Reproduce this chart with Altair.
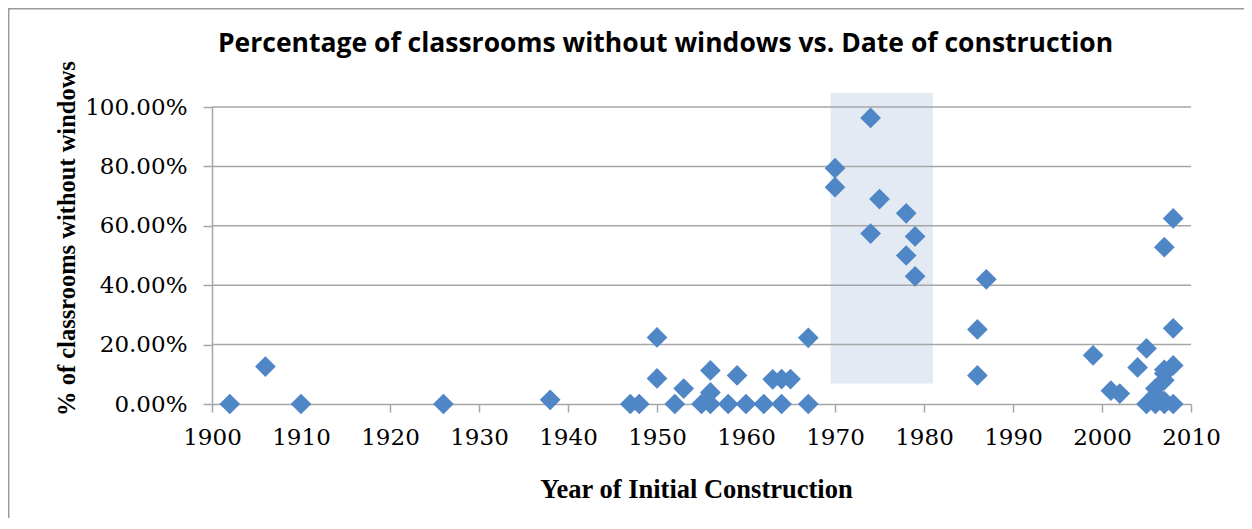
import altair as alt
import pandas as pd

# Data
years = [1902, 1906, 1910, 1926, 1938, 1947, 1948, 1950, 1950, 1952,
         1953, 1955, 1956, 1956, 1956, 1958, 1959, 1960, 1962, 1963,
         1964, 1964, 1965, 1967, 1967, 1970, 1970, 1974, 1974, 1975,
         1978, 1978, 1979, 1979, 1986, 1986, 1987, 1999, 2001, 2002,
         2004, 2005, 2005, 2006, 2006, 2006, 2006, 2007, 2007, 2007,
         2007, 2007, 2007, 2008, 2008, 2008, 2008]
pct = [0.0, 12.6, 0.0, 0.0, 1.4, 0.0, 0.0, 22.4, 8.6, 0.0,
       5.2, 0.0, 0.0, 3.9, 11.3, 0.0, 9.6, 0.0, 0.0, 8.3,
       8.4, 0.0, 8.4, 22.3, 0.0, 79.4, 73.0, 96.3, 57.4, 69.0,
       64.2, 50.0, 56.4, 43.0, 25.1, 9.6, 42.0, 16.4, 4.5, 3.5,
       12.3, 18.7, 0.0, 0.0, 1.0, 3.0, 5.2, 0.0, 1.0, 8.0,
       10.3, 11.5, 52.8, 0.0, 13.0, 25.5, 62.5]

x_ticks = [1900, 1910, 1920, 1930, 1940, 1950, 1960, 1970, 1980, 1990, 2000, 2010]
y_ticks = [0.0, 0.2, 0.4, 0.6, 0.8, 1.0]

# highlighted band (1970s)
hl_x = [1969.5]
hl_x2 = [1981.0]
hl_y = [0.069]
hl_y2 = [1.047]

pts = pd.DataFrame({"year": years, "pct": [p / 100 for p in pct]})
grid = pd.DataFrame({"year": [1900] * 5, "pct": y_ticks[1:]})
hl = pd.DataFrame({"year": hl_x, "x2": hl_x2, "pct": hl_y, "y2": hl_y2})
frame = pd.DataFrame({"k": [0]})

GRAY = "#a6a6a6"
XTITLE = "Year of Initial Construction"
YTITLE = "% of classrooms without windows"
xs = alt.Scale(domain=[1900, 2010], nice=False, zero=False)
ys = alt.Scale(domain=[0, 1], nice=False)

xaxis = alt.Axis(
    values=x_ticks, format="d", title=XTITLE,
    grid=False, domainColor=GRAY, domainWidth=1.5, tickColor=GRAY,
    tickWidth=1.5, tickSize=8, labelPadding=14, labelFont="DejaVu Serif",
    labelFontSize=23, labelColor="#000000", titleFont="Liberation Serif",
    titleFontSize=26.5, titleFontWeight="bold", titleColor="#000000",
    titlePadding=27, titleX=484, titleAlign="center",
    labelFlush=False, labelOverlap=False,
)
yaxis = alt.Axis(
    values=y_ticks, format=".2%", title=YTITLE,
    grid=False, domainColor=GRAY, domainWidth=1.5, tickColor=GRAY,
    tickWidth=1.5, tickSize=9, labelPadding=16, labelFont="DejaVu Serif",
    labelFontSize=23, labelColor="#000000", titleFont="Liberation Serif",
    titleFontSize=24.5, titleFontWeight="bold", titleColor="#000000",
    titlePadding=5, titleY=131, titleAlign="center",
    labelFlush=False, labelOverlap=False,
)

band = alt.Chart(hl).mark_rect(color="#e4eaf4").encode(
    x=alt.X("year:Q", scale=xs, axis=xaxis),
    x2="x2:Q",
    y=alt.Y("pct:Q", scale=ys, axis=yaxis),
    y2="y2:Q",
)

gridlines = alt.Chart(grid).mark_rule(color=GRAY, strokeWidth=1.5).encode(
    y=alt.Y("pct:Q", scale=ys, axis=yaxis)
)

points = alt.Chart(pts).mark_point(
    shape="diamond", filled=True, size=430, color="#4f86c6", opacity=1
).encode(
    x=alt.X("year:Q", scale=xs, axis=xaxis),
    y=alt.Y("pct:Q", scale=ys, axis=yaxis),
)

frame_left = alt.Chart(frame).mark_rule(color="#9a9a9a", strokeWidth=1.5).encode(
    x=alt.value(-203.3), y=alt.value(-99), y2=alt.value(420)
)
frame_top = alt.Chart(frame).mark_rule(color="#9a9a9a", strokeWidth=1.5).encode(
    x=alt.value(-203.3), x2=alt.value(1040), y=alt.value(-98.3)
)

chart = alt.layer(band, gridlines, points, frame_left, frame_top).properties(
    width=979,
    height=297,
    autosize=alt.AutoSizeParams(type="none"),
    padding={"left": 204, "top": 99, "right": 53, "bottom": 114},
    title=alt.TitleParams(
        "Percentage of classrooms without windows vs. Date of construction",
        font="Open Sans", fontSize=26.5, fontWeight="bold", color="#000000",
        anchor="middle", dx=-36, offset=-50,
    ),
).configure_view(stroke=None)

chart.save("out.html", embed_options={"renderer": "svg", "actions": False})
